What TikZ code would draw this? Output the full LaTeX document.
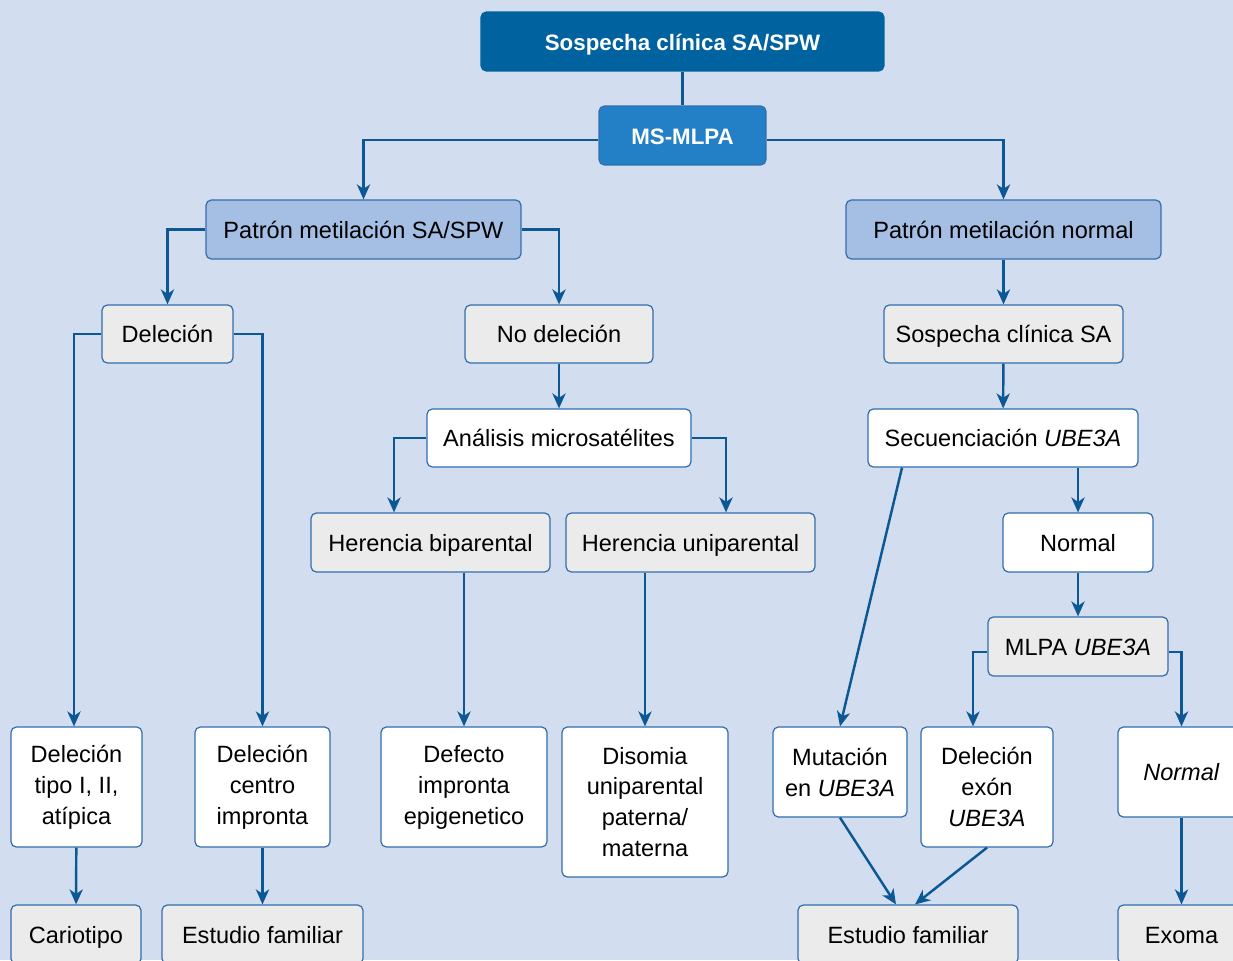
\documentclass[tikz,border=0pt]{standalone}
\usepackage{fontspec}
\setmainfont{Liberation Sans}
\usepackage{tikz}
\usetikzlibrary{arrows.meta, positioning}
\definecolor{bgblue}{RGB}{211, 221, 240}
\definecolor{darkblue}{RGB}{0, 98, 158}
\definecolor{midblue}{RGB}{36, 128, 198}
\definecolor{lightblue}{RGB}{164, 190, 228}
\definecolor{boxgray}{RGB}{235, 235, 235}
\definecolor{edgeblue}{RGB}{50, 110, 172}
\definecolor{arrowblue}{RGB}{12, 88, 148}

\begin{document}
\begin{tikzpicture}[
    x=0.02cm, y=-0.02cm,
    box/.style={draw=edgeblue, line width=0.7pt, rounded corners=3pt, inner sep=0pt, align=center, font=\fontsize{13.4}{17.6}\selectfont},
    oneline/.style={text height=12pt, text depth=1.8pt},
    multiline/.style={execute at begin node={\rule{0pt}{13.5pt}}},
    head/.style={box, oneline, draw=darkblue, fill=darkblue, text=white, font=\fontsize{12.7}{16}\selectfont\bfseries},
    sub/.style={box, oneline, draw=edgeblue, fill=midblue, text=white, font=\fontsize{12.7}{16}\selectfont\bfseries},
    pattern box/.style={box, oneline, fill=lightblue},
    graybox/.style={box, oneline, fill=boxgray},
    whitebox/.style={box, fill=white},
    arrow/.style={-{Stealth[length=8.5pt, width=7.5pt, inset=2.5pt]}, line width=1.4pt, arrowblue},
    link/.style={line width=1.4pt, arrowblue}
]
    \clip (0,0) rectangle (1233,960);
    \fill[bgblue] (0,0) rectangle (1233,960);

    % Nodes - top
    \node[head, minimum width=8.06cm, minimum height=1.18cm] (suspect) at (682.5,41.5) {Sospecha clínica SA/SPW};
    \node[sub, minimum width=3.34cm, minimum height=1.18cm] (msmlpa) at (682.5,135.5) {MS-MLPA};
    \node[pattern box, minimum width=6.3cm, minimum height=1.18cm] (patsa) at (363.5,229.5) {Patrón metilación SA/SPW};
    \node[pattern box, minimum width=6.3cm, minimum height=1.18cm] (patnormal) at (1003.5,229.5) {Patrón metilación normal};

    % Nodes - left branch
    \node[graybox, minimum width=2.62cm, minimum height=1.16cm] (del) at (167.5,334) {Deleción};
    \node[graybox, minimum width=3.76cm, minimum height=1.16cm] (nodel) at (559,334) {No deleción};
    \node[whitebox, oneline, minimum width=5.28cm, minimum height=1.16cm] (micro) at (559,438) {Análisis microsatélites};
    \node[graybox, minimum width=4.78cm, minimum height=1.18cm] (herbi) at (430.5,542.5) {Herencia biparental};
    \node[graybox, minimum width=4.98cm, minimum height=1.18cm] (heruni) at (690.5,542.5) {Herencia uniparental};

    % Nodes - right branch
    \node[graybox, minimum width=4.78cm, minimum height=1.16cm] (suspectsa) at (1003.5,334) {Sospecha clínica SA};
    \node[whitebox, oneline, minimum width=5.4cm, minimum height=1.16cm] (seq) at (1003,438) {Secuenciación \textit{UBE3A}};
    \node[whitebox, oneline, minimum width=3.0cm, minimum height=1.18cm] (normal) at (1078,542.5) {Normal};
    \node[graybox, minimum width=3.6cm, minimum height=1.18cm] (mlpa) at (1078,646.5) {MLPA \textit{UBE3A}};

    % Nodes - results
    \node[whitebox, multiline, minimum width=2.62cm, minimum height=2.4cm] (deltype) at (76.5,787) {Deleción\\tipo I, II,\\atípica};
    \node[whitebox, multiline, minimum width=2.7cm, minimum height=2.4cm] (delcenter) at (262.5,787) {Deleción\\centro\\impronta};
    \node[whitebox, multiline, minimum width=3.32cm, minimum height=2.4cm] (defect) at (464,787) {Defecto\\impronta\\epigenetico};
    \node[whitebox, multiline, minimum width=3.32cm, minimum height=3.0cm] (disomy) at (645,802) {Disomia\\uniparental\\paterna/\\materna};
    \node[whitebox, multiline, minimum width=2.68cm, minimum height=1.8cm] (mutation) at (840,772) {Mutación\\en \textit{UBE3A}};
    \node[whitebox, multiline, minimum width=2.64cm, minimum height=2.4cm] (exon) at (987,787) {Deleción\\exón\\\textit{UBE3A}};
    \node[whitebox, oneline, minimum width=2.54cm, minimum height=1.8cm] (normalit) at (1181.5,772) {\textit{Normal}};

    % Nodes - bottom row
    \node[graybox, minimum width=2.6cm, minimum height=1.18cm] (karyo) at (76,934.5) {Cariotipo};
    \node[graybox, minimum width=4.02cm, minimum height=1.18cm] (family) at (262.5,934.5) {Estudio familiar};
    \node[graybox, minimum width=4.4cm, minimum height=1.18cm] (familyb) at (908,934.5) {Estudio familiar};
    \node[graybox, minimum width=2.54cm, minimum height=1.18cm] (exome) at (1181.5,934.5) {Exoma};

    % Arrows - top
    \draw[link] (suspect) -- (msmlpa);
    \draw[arrow] ([yshift=-2.5pt]msmlpa.west) -| (patsa.north);
    \draw[arrow] ([yshift=-2.5pt]msmlpa.east) -| (patnormal.north);

    % Arrows - left branch
    \draw[arrow] (patsa.west) -| (del.north);
    \draw[arrow] (patsa.east) -| (nodel.north);
    \draw[arrow] (nodel) -- (micro);
    \draw[arrow] (micro.west) -| ([xshift=-0.73cm]herbi.north);
    \draw[arrow] (micro.east) -| ([xshift=0.71cm]heruni.north);
    \draw[arrow] (del.west) -| ([xshift=-0.05cm]deltype.north);
    \draw[arrow] (del.east) -| (delcenter.north);
    \draw[arrow] (herbi.south -| defect.north) -- (defect.north);
    \draw[arrow] (heruni.south -| disomy.north) -- (disomy.north);
    \draw[arrow] (deltype) -- (karyo);
    \draw[arrow] (delcenter) -- (family);

    % Arrows - right branch
    \draw[arrow] (patnormal) -- (suspectsa);
    \draw[arrow] (suspectsa) -- (seq);
    \draw[arrow] (seq.south -| normal.north) -- (normal.north);
    \draw[arrow] (normal) -- (mlpa);
    \draw[arrow] ([xshift=-2.02cm]seq.south) -- (mutation.north);
    \draw[arrow] ([yshift=-3pt]mlpa.west) -| ([xshift=-0.28cm]exon.north);
    \draw[arrow] ([yshift=-3pt]mlpa.east) -| (normalit.north);
    \draw[arrow] (mutation.south) -- ([xshift=-0.24cm]familyb.north);
    \draw[arrow] (exon.south) -- ([xshift=0.14cm]familyb.north);
    \draw[arrow] (normalit) -- (exome);
\end{tikzpicture}
\end{document}
